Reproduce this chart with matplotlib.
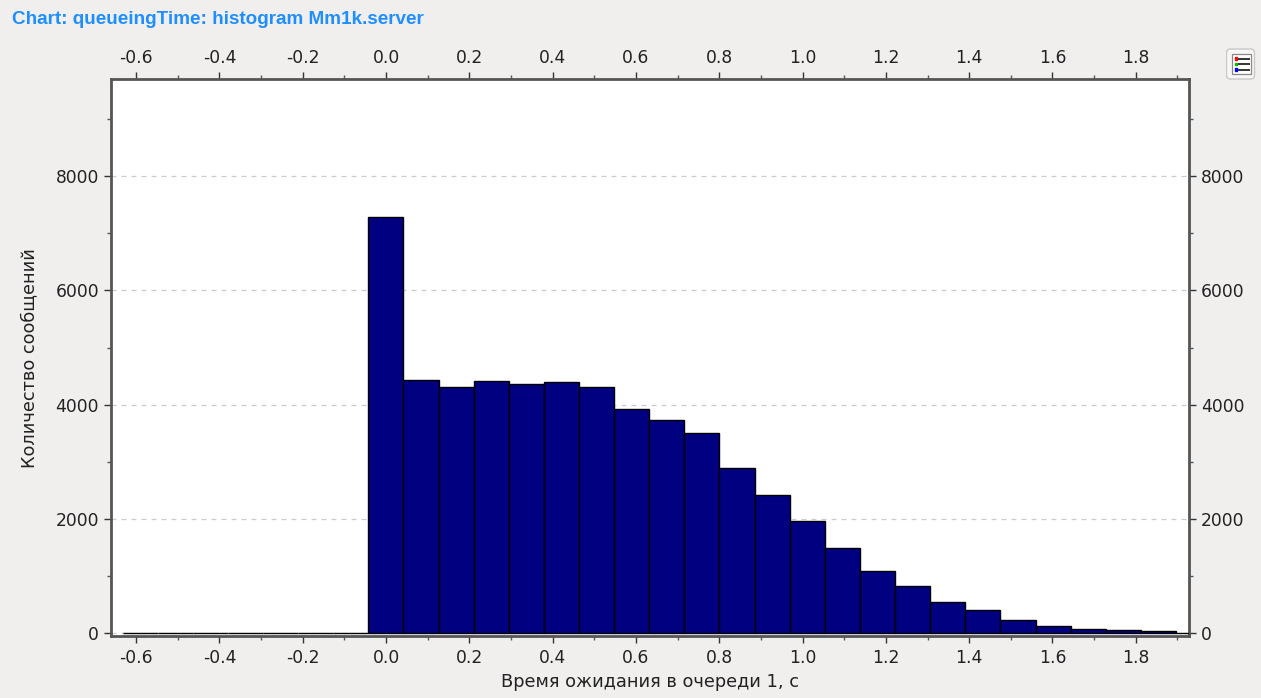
import matplotlib.pyplot as plt
import matplotlib.patches as mpatches
import numpy as np
from matplotlib.ticker import MultipleLocator

# bins of the histogram (left edge, common width) and message counts
bin_start = -0.6326
bin_width = 0.0843
counts = [0, 0, 0, 0, 0, 0, 0,
          7285, 4437, 4310, 4415, 4355, 4390, 4310, 3925, 3737, 3510,
          2896, 2418, 1957, 1494, 1091, 823, 548, 398, 233, 128, 75, 45, 30,
          0]

x_ticks = [-0.6, -0.4, -0.2, 0.0, 0.2, 0.4, 0.6, 0.8, 1.0, 1.2, 1.4, 1.6, 1.8]
y_ticks = [0, 2000, 4000, 6000, 8000]

titre = 'Chart: queueingTime: histogram Mm1k.server'
x_label = 'Время ожидания в очереди 1, с'
y_label = 'Количество сообщений'

plt.rcParams['font.family'] = ['DejaVu Sans']

fig = plt.figure(figsize=(12.61, 6.98), dpi=100, facecolor='#f0efee')
ax = fig.add_axes([0.0878, 0.0888, 0.943 - 0.0878, 0.8864 - 0.0888])
ax.set_facecolor('white')

edges = bin_start + bin_width * np.arange(len(counts))
ax.bar(edges, counts, width=bin_width, align='edge', color='#000080',
       edgecolor='black', linewidth=1.0, zorder=3)

ax.set_xlim(-0.661, 1.928)
ax.set_ylim(-53, 9700)
ax.set_xticks(x_ticks)
ax.set_xticklabels(['%.1f' % v for v in x_ticks])
ax.set_yticks(y_ticks)
ax.xaxis.set_minor_locator(MultipleLocator(0.1))
ax.yaxis.set_minor_locator(MultipleLocator(1000))

ax.tick_params(axis='both', which='major', labelsize=12.3, length=5, width=1,
               color='#333333', labelcolor='#222222', direction='out',
               top=True, right=True, labeltop=True, labelright=True)
ax.tick_params(axis='both', which='minor', length=3, width=1, color='#555555',
               direction='out', top=True, right=True)
ax.tick_params(axis='x', which='major', pad=4)

ax.yaxis.grid(True, linestyle=(0, (4, 4)), color='#cccccc', linewidth=0.9, zorder=0)
for s in ax.spines.values():
    s.set_color('#555555')
    s.set_linewidth(2.0)

ax.set_xlabel(x_label, fontsize=12.8, color='#222222', labelpad=5)
ax.set_ylabel(y_label, fontsize=12.8, color='#222222', labelpad=12)

fig.text(12 / 1261, 1 - 20 / 698, titre, fontsize=13.6, fontweight='bold',
         color='#1f8fff', family=['Liberation Sans', 'DejaVu Sans'], va='center', ha='left')

# petit bouton de légende en haut à droite
bx = fig.add_axes([1226 / 1261, 1 - 80 / 698, 30 / 1261, 32 / 698])
bx.set_xlim(0, 30)
bx.set_ylim(0, 32)
bx.axis('off')
bx.add_patch(mpatches.FancyBboxPatch((0.5, 1), 28, 30, boxstyle='round,pad=0,rounding_size=4',
                                     facecolor='#f7f7f7', edgecolor='#c8c8c8', linewidth=1))
bx.add_patch(mpatches.Rectangle((6, 6), 19, 20, facecolor='white', edgecolor='#888888', linewidth=0.9))
for yy, c in zip([21.5, 16, 10.5], ['red', '#00c000', 'blue']):
    bx.add_patch(mpatches.Rectangle((8.5, yy - 1.3), 2.6, 2.6, color=c))
    bx.plot([13, 22.5], [yy, yy], color='#333333', linewidth=1.4)

fig.savefig('out.png', dpi=100, facecolor=fig.get_facecolor())
